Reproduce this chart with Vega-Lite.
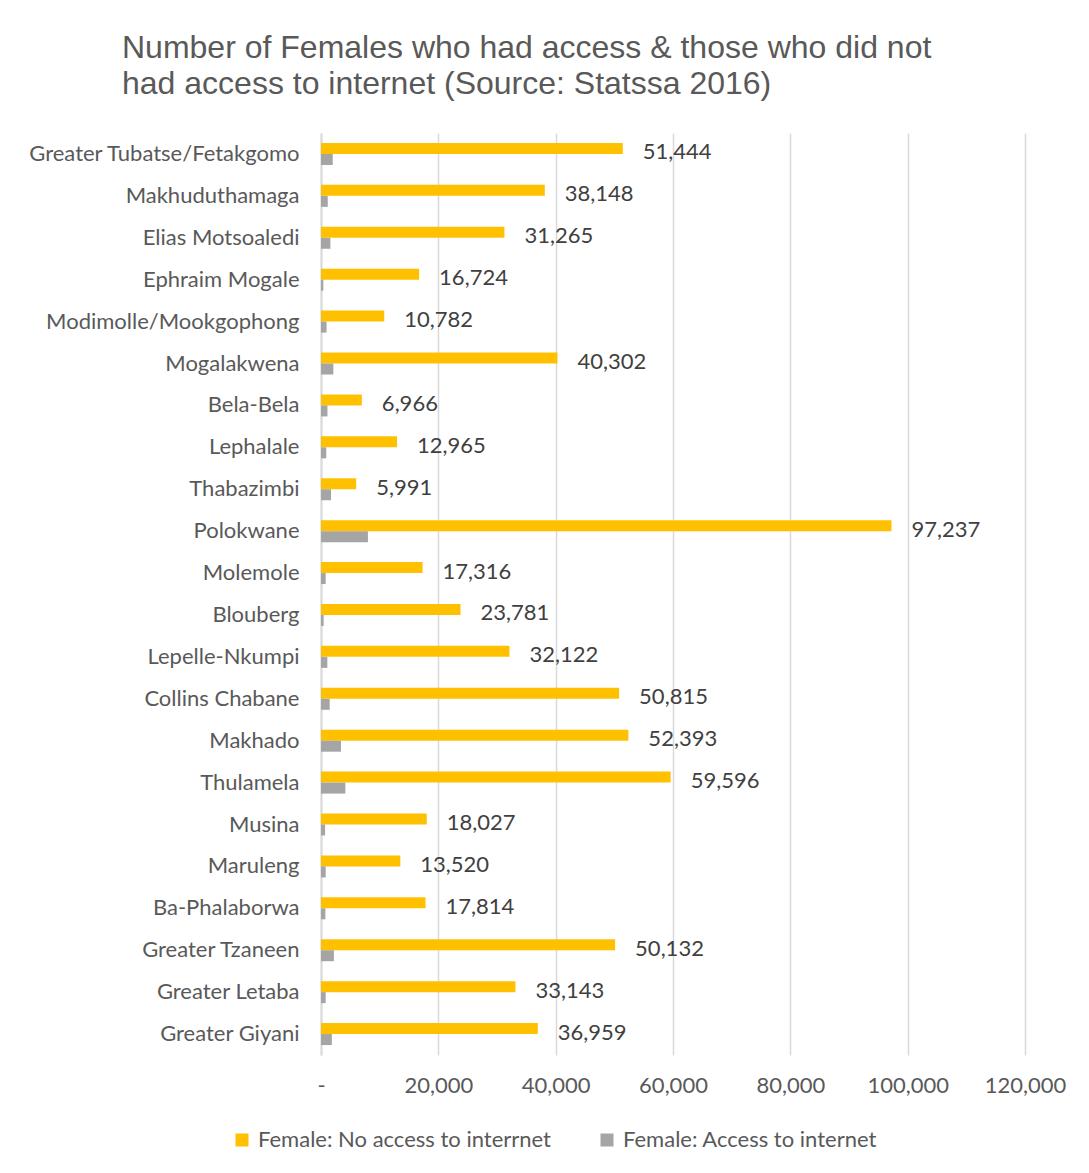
{
  "$schema": "https://vega.github.io/schema/vega-lite/v6.json",
  "width": 704,
  "height": 922,
  "autosize": {"type": "none"},
  "padding": {"left": 321, "top": 133, "right": 64, "bottom": 118},
  "background": "white",
  "title": {
    "text": ["Number of Females who had access & those who did not", "had access to internet (Source: Statssa 2016)"],
    "anchor": "start",
    "frame": "group",
    "dx": -199,
    "offset": 32,
    "font": "Liberation Sans",
    "fontSize": 32,
    "fontWeight": "normal",
    "color": "#595959",
    "lineHeight": 36
  },
  "data": {
    "values": [
      {"Municipality": "Greater Tubatse/Fetakgomo", "Series": "Female: No access to interrnet", "Value": 51444},
      {"Municipality": "Greater Tubatse/Fetakgomo", "Series": "Female: Access to internet", "Value": 2000},
      {"Municipality": "Makhuduthamaga", "Series": "Female: No access to interrnet", "Value": 38148},
      {"Municipality": "Makhuduthamaga", "Series": "Female: Access to internet", "Value": 1150},
      {"Municipality": "Elias Motsoaledi", "Series": "Female: No access to interrnet", "Value": 31265},
      {"Municipality": "Elias Motsoaledi", "Series": "Female: Access to internet", "Value": 1600},
      {"Municipality": "Ephraim Mogale", "Series": "Female: No access to interrnet", "Value": 16724},
      {"Municipality": "Ephraim Mogale", "Series": "Female: Access to internet", "Value": 400},
      {"Municipality": "Modimolle/Mookgophong", "Series": "Female: No access to interrnet", "Value": 10782},
      {"Municipality": "Modimolle/Mookgophong", "Series": "Female: Access to internet", "Value": 950},
      {"Municipality": "Mogalakwena", "Series": "Female: No access to interrnet", "Value": 40302},
      {"Municipality": "Mogalakwena", "Series": "Female: Access to internet", "Value": 2100},
      {"Municipality": "Bela-Bela", "Series": "Female: No access to interrnet", "Value": 6966},
      {"Municipality": "Bela-Bela", "Series": "Female: Access to internet", "Value": 1100},
      {"Municipality": "Lephalale", "Series": "Female: No access to interrnet", "Value": 12965},
      {"Municipality": "Lephalale", "Series": "Female: Access to internet", "Value": 900},
      {"Municipality": "Thabazimbi", "Series": "Female: No access to interrnet", "Value": 5991},
      {"Municipality": "Thabazimbi", "Series": "Female: Access to internet", "Value": 1700},
      {"Municipality": "Polokwane", "Series": "Female: No access to interrnet", "Value": 97237},
      {"Municipality": "Polokwane", "Series": "Female: Access to internet", "Value": 8000},
      {"Municipality": "Molemole", "Series": "Female: No access to interrnet", "Value": 17316},
      {"Municipality": "Molemole", "Series": "Female: Access to internet", "Value": 800},
      {"Municipality": "Blouberg", "Series": "Female: No access to interrnet", "Value": 23781},
      {"Municipality": "Blouberg", "Series": "Female: Access to internet", "Value": 450},
      {"Municipality": "Lepelle-Nkumpi", "Series": "Female: No access to interrnet", "Value": 32122},
      {"Municipality": "Lepelle-Nkumpi", "Series": "Female: Access to internet", "Value": 1080},
      {"Municipality": "Collins Chabane", "Series": "Female: No access to interrnet", "Value": 50815},
      {"Municipality": "Collins Chabane", "Series": "Female: Access to internet", "Value": 1480},
      {"Municipality": "Makhado", "Series": "Female: No access to interrnet", "Value": 52393},
      {"Municipality": "Makhado", "Series": "Female: Access to internet", "Value": 3400},
      {"Municipality": "Thulamela", "Series": "Female: No access to interrnet", "Value": 59596},
      {"Municipality": "Thulamela", "Series": "Female: Access to internet", "Value": 4150},
      {"Municipality": "Musina", "Series": "Female: No access to interrnet", "Value": 18027},
      {"Municipality": "Musina", "Series": "Female: Access to internet", "Value": 700},
      {"Municipality": "Maruleng", "Series": "Female: No access to interrnet", "Value": 13520},
      {"Municipality": "Maruleng", "Series": "Female: Access to internet", "Value": 800},
      {"Municipality": "Ba-Phalaborwa", "Series": "Female: No access to interrnet", "Value": 17814},
      {"Municipality": "Ba-Phalaborwa", "Series": "Female: Access to internet", "Value": 750},
      {"Municipality": "Greater Tzaneen", "Series": "Female: No access to interrnet", "Value": 50132},
      {"Municipality": "Greater Tzaneen", "Series": "Female: Access to internet", "Value": 2200},
      {"Municipality": "Greater Letaba", "Series": "Female: No access to interrnet", "Value": 33143},
      {"Municipality": "Greater Letaba", "Series": "Female: Access to internet", "Value": 800},
      {"Municipality": "Greater Giyani", "Series": "Female: No access to interrnet", "Value": 36959},
      {"Municipality": "Greater Giyani", "Series": "Female: Access to internet", "Value": 1850}
    ]
  },
  "encoding": {
    "y": {
      "field": "Municipality",
      "type": "nominal",
      "sort": null,
      "scale": {"paddingInner": 0.475, "paddingOuter": 0.2375},
      "axis": {
        "title": null,
        "ticks": false,
        "domainColor": "#d9d9d9",
        "domainWidth": 2,
        "labelPadding": 22,
        "labelFont": "Lato",
        "labelFontSize": 22,
        "labelColor": "#595959",
        "labelLimit": 400
      }
    },
    "yOffset": {
      "field": "Series",
      "type": "nominal",
      "sort": ["Female: No access to interrnet", "Female: Access to internet"],
      "scale": {"paddingInner": 0, "paddingOuter": 0}
    },
    "x": {
      "field": "Value",
      "type": "quantitative",
      "scale": {"domain": [0, 120000], "nice": false},
      "axis": {
        "title": null,
        "values": [0, 20000, 40000, 60000, 80000, 100000, 120000],
        "labelExpr": "datum.value == 0 ? '-' : format(datum.value, ',')",
        "grid": true,
        "gridColor": "#d9d9d9",
        "gridWidth": 1.5,
        "domain": false,
        "ticks": false,
        "labelFlush": false,
        "labelOverlap": false,
        "labelPadding": 20,
        "labelFont": "Lato",
        "labelFontSize": 22,
        "labelColor": "#595959"
      }
    }
  },
  "layer": [
    {
      "mark": {"type": "bar"},
      "encoding": {
        "color": {
          "field": "Series",
          "type": "nominal",
          "scale": {
            "domain": ["Female: No access to interrnet", "Female: Access to internet"],
            "range": ["#FFC000", "#A5A5A5"]
          },
          "legend": {
            "title": null,
            "orient": "none",
            "direction": "horizontal",
            "legendX": -90,
            "legendY": 996,
            "symbolType": "square",
            "symbolSize": 169,
            "symbolStrokeWidth": 0,
            "labelFont": "Lato",
            "labelFontSize": 22,
            "labelColor": "#595959",
            "labelOffset": 5,
            "columnPadding": 45,
            "labelLimit": 400
          }
        }
      }
    },
    {
      "transform": [{"filter": "datum.Series == 'Female: No access to interrnet'"}],
      "mark": {
        "type": "text",
        "align": "left",
        "baseline": "middle",
        "dx": 20,
        "dy": 4,
        "font": "Lato",
        "fontSize": 22,
        "color": "#404040"
      },
      "encoding": {
        "text": {"field": "Value", "type": "quantitative", "format": ","}
      }
    }
  ],
  "config": {
    "view": {"stroke": null}
  }
}
